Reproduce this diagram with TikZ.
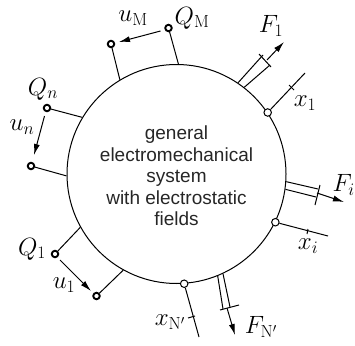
\documentclass[tikz,border=0pt]{standalone}
\usepackage{fix-cm}
\usepackage{fontspec}
\setsansfont{Liberation Sans}
\usetikzlibrary{arrows.meta}
\begin{document}
\begin{tikzpicture}[
		x=1pt, y=-1pt,
		% Define styles for nodes
		system/.style={draw, circle, line width=1pt, inner sep=0pt, minimum size=219pt},
		caption/.style={align=center, inner sep=0pt, text=black!85, font=\fontsize{19}{21.5}\selectfont\sffamily},
		terminal/.style={draw, circle, line width=1.9pt, fill=white, inner sep=0pt, minimum size=6.5pt},
		joint/.style={draw, circle, line width=1pt, fill=white, inner sep=0pt, minimum size=7.5pt},
		symbol/.style={inner sep=0pt, font=\fontsize{25}{28}\selectfont},
		wire/.style={draw, line width=1pt},
		force/.style={draw, line width=1pt, -{Latex[length=11pt,width=6pt]}}
	]
	\useasboundingbox (0,0) rectangle (355,345);

	% System
	\node[system] (sys) at (176.5,174) {};
	\node[caption] (title) at (176.5,176) {general\\electromechanical\\system\\with electrostatic\\fields};

	% Electrical terminals
	\node[terminal] (tM) at (111,44) {};
	\node[terminal] (qM) at (168.5,28) {};
	\node[terminal] (qn) at (47,108) {};
	\node[terminal] (tn) at (31,166) {};
	\node[terminal] (q1) at (55,254) {};
	\node[terminal] (t1) at (96.5,296) {};
	\draw[wire] (tM) -- (sys.121);
	\draw[wire] (qM) -- (sys.89);
	\draw[wire] (qn) -- (sys.149);
	\draw[wire] (tn) -- (sys.181);
	\draw[wire] (q1) -- (sys.209.5);
	\draw[wire] (t1) -- (sys.241);
	\draw[force] (qM) ++(-8,3) coordinate (uMa) (tM) ++(8,-2) coordinate (uMb) (uMa) -- (uMb);
	\draw[force] (qn) ++(-2.5,8) coordinate (una) (tn) ++(3,-11) coordinate (unb) (una) -- (unb);
	\draw[force] (q1) ++(5,6) coordinate (u1a) (t1) ++(-5.5,-5) coordinate (u1b) (u1a) -- (u1b);

	% Mechanical ports
	\node[joint] (j1) at (sys.34) {};
	\node[joint] (ji) at (sys.-26) {};
	\node[joint] (jN) at (sys.-86) {};
	\coordinate (x1) at (305,73);
	\coordinate (xi) at (328,236);
	\coordinate (xN) at (199,337);
	\draw[wire] (j1) -- (x1);
	\draw[wire] (ji) -- (xi);
	\draw[wire] (jN) -- (xN);
	\coordinate (tick1a) at (289,85);
	\coordinate (tick1b) at (294,90);
	\coordinate (tickia) at (308,229);
	\coordinate (tickib) at (307,234);
	\coordinate (tickNa) at (188,318);
	\coordinate (tickNb) at (195,316);
	\draw[wire] (tick1a) -- (tick1b);
	\draw[wire] (tickia) -- (tickib);
	\draw[wire] (tickNa) -- (tickNb);

	% Forces
	\coordinate (F1a) at (263,55);
	\coordinate (F1b) at (270,65);
	\coordinate (F1c) at (267,60);
	\coordinate (F1bara) at (259,54);
	\coordinate (F1barb) at (271,67);
	\coordinate (F1tip) at (284,42);
	\draw[wire] (sys.56) -- (F1a);
	\draw[wire] (sys.52) -- (F1b);
	\draw[wire] (F1bara) -- (F1barb);
	\draw[force] (F1c) -- (F1tip);

	\coordinate (Fia) at (318,189);
	\coordinate (Fib) at (316,197);
	\coordinate (Fic) at (317,193);
	\coordinate (Fibara) at (320,185);
	\coordinate (Fibarb) at (315,205);
	\coordinate (Fitip) at (344,202);
	\draw[wire] (sys.-4.3) -- (Fia);
	\draw[wire] (sys.-8) -- (Fib);
	\draw[wire] (Fibara) -- (Fibarb);
	\draw[force] (Fic) -- (Fitip);

	\coordinate (FNa) at (223,309);
	\coordinate (FNb) at (230,307);
	\coordinate (FNc) at (227,308);
	\coordinate (FNbara) at (220,310);
	\coordinate (FNbarb) at (239,305);
	\coordinate (FNtip) at (235,335);
	\draw[wire] (sys.-68) -- (FNa);
	\draw[wire] (sys.-65) -- (FNb);
	\draw[wire] (FNbara) -- (FNbarb);
	\draw[force] (FNc) -- (FNtip);

	% Labels
	\node[symbol] (luM) at (133,18) {$u_{\mathrm{M}}$};
	\node[symbol] (lQM) at (192,18) {$Q_{\mathrm{M}}$};
	\node[symbol] (lQn) at (43,89) {$Q_n$};
	\node[symbol] (lun) at (22,127) {$u_n$};
	\node[symbol] (lQ1) at (32,249) {$Q_1$};
	\node[symbol] (lu1) at (64,285) {$u_1$};
	\node[symbol] (lF1) at (271,26) {$F_1$};
	\node[symbol] (lx1) at (305,103) {$x_1$};
	\node[symbol, anchor=east] (lFi) at (355,185) {$F_i$};
	\node[symbol] (lxi) at (308,246) {$x_i$};
	\node[symbol] (lFN) at (261,327) {$F_{\mathrm{N}'}$};
	\node[symbol] (lxN) at (170,322) {$x_{\mathrm{N}'}$};
\end{tikzpicture}
\end{document}
